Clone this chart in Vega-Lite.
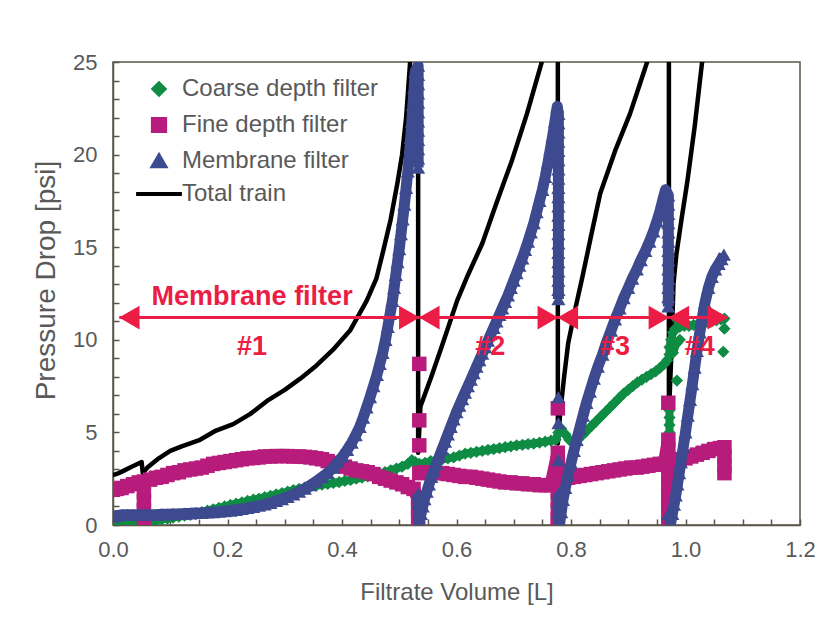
{
  "$schema": "https://vega.github.io/schema/vega-lite/v6.json",
  "autosize": {"type": "none"},
  "padding": {"left": 113, "top": 62, "right": 33, "bottom": 116},
  "width": 687,
  "height": 463,
  "background": "white",
  "config": {
    "font": "Liberation Sans",
    "view": {"stroke": "#5a5548", "strokeWidth": 1.5},
    "axis": {
      "domainColor": "#5a5548", "domainWidth": 1.5,
      "tickColor": "#5a5548", "tickWidth": 1.5, "tickSize": -6,
      "labelColor": "#595959", "labelFont": "Liberation Sans", "labelFontSize": 22,
      "titleColor": "#595959", "titleFontSize": 24, "titleFont": "Liberation Sans", "titleFontWeight": "normal",
      "grid": false, "labelOverlap": false, "labelFlush": false
    }
  },
  "datasets": {
    "coarse": [
      {"g":1,"x":0.000,"y":0.2},{"g":1,"x":0.008,"y":0.15},{"g":1,"x":0.016,"y":0.15},{"g":1,"x":0.025,"y":0.15},{"g":1,"x":0.035,"y":0.15},{"g":1,"x":0.045,"y":0.15},{"g":1,"x":0.055,"y":0.1},{"g":1,"x":0.065,"y":0.2},{"g":1,"x":0.075,"y":0.25},{"g":1,"x":0.085,"y":0.3},{"g":1,"x":0.095,"y":0.35},{"g":1,"x":0.105,"y":0.4},{"g":1,"x":0.115,"y":0.45},{"g":1,"x":0.125,"y":0.5},{"g":1,"x":0.135,"y":0.55},{"g":1,"x":0.145,"y":0.6},{"g":1,"x":0.155,"y":0.7},{"g":1,"x":0.165,"y":0.78},{"g":1,"x":0.175,"y":0.85},{"g":1,"x":0.185,"y":0.92},{"g":1,"x":0.195,"y":1.0},{"g":1,"x":0.205,"y":1.08},{"g":1,"x":0.215,"y":1.15},{"g":1,"x":0.225,"y":1.22},{"g":1,"x":0.235,"y":1.3},{"g":1,"x":0.245,"y":1.37},{"g":1,"x":0.255,"y":1.43},{"g":1,"x":0.265,"y":1.5},{"g":1,"x":0.275,"y":1.57},{"g":1,"x":0.285,"y":1.65},{"g":1,"x":0.295,"y":1.72},{"g":1,"x":0.305,"y":1.8},{"g":1,"x":0.315,"y":1.88},{"g":1,"x":0.325,"y":1.95},{"g":1,"x":0.335,"y":2.02},{"g":1,"x":0.345,"y":2.07},{"g":1,"x":0.355,"y":2.12},{"g":1,"x":0.365,"y":2.18},{"g":1,"x":0.375,"y":2.22},{"g":1,"x":0.385,"y":2.27},{"g":1,"x":0.395,"y":2.32},{"g":1,"x":0.405,"y":2.38},{"g":1,"x":0.415,"y":2.43},{"g":1,"x":0.425,"y":2.5},{"g":1,"x":0.435,"y":2.56},{"g":1,"x":0.445,"y":2.62},{"g":1,"x":0.455,"y":2.7},{"g":1,"x":0.465,"y":2.78},{"g":1,"x":0.475,"y":2.85},{"g":1,"x":0.485,"y":2.95},{"g":1,"x":0.495,"y":3.05},{"g":1,"x":0.505,"y":3.15},{"g":1,"x":0.515,"y":3.3},{"g":1,"x":0.522,"y":3.5},{"g":1,"x":0.528,"y":3.4},{"g":1,"x":0.535,"y":3.3},{"g":1,"x":0.545,"y":3.35},{"g":1,"x":0.555,"y":3.45},{"g":1,"x":0.565,"y":3.5},{"g":1,"x":0.575,"y":3.55},{"g":1,"x":0.585,"y":3.6},{"g":1,"x":0.595,"y":3.65},{"g":1,"x":0.605,"y":3.75},{"g":1,"x":0.615,"y":3.85},{"g":1,"x":0.625,"y":3.9},{"g":1,"x":0.635,"y":3.95},{"g":1,"x":0.645,"y":4.0},{"g":1,"x":0.655,"y":4.05},{"g":1,"x":0.665,"y":4.1},{"g":1,"x":0.675,"y":4.15},{"g":1,"x":0.685,"y":4.2},{"g":1,"x":0.695,"y":4.25},{"g":1,"x":0.705,"y":4.3},{"g":1,"x":0.715,"y":4.33},{"g":1,"x":0.725,"y":4.37},{"g":1,"x":0.735,"y":4.4},{"g":1,"x":0.745,"y":4.45},{"g":1,"x":0.755,"y":4.5},{"g":1,"x":0.765,"y":4.55},{"g":1,"x":0.773,"y":4.6},{"g":1,"x":0.778,"y":5.0},{"g":1,"x":0.783,"y":5.2},{"g":1,"x":0.79,"y":4.9},{"g":1,"x":0.797,"y":4.6},{"g":1,"x":0.805,"y":4.5},{"g":1,"x":0.812,"y":4.6},{"g":1,"x":0.82,"y":4.85},{"g":1,"x":0.828,"y":5.1},{"g":1,"x":0.836,"y":5.35},{"g":1,"x":0.844,"y":5.6},{"g":1,"x":0.852,"y":5.85},{"g":1,"x":0.86,"y":6.1},{"g":1,"x":0.868,"y":6.35},{"g":1,"x":0.876,"y":6.6},{"g":1,"x":0.884,"y":6.85},{"g":1,"x":0.892,"y":7.1},{"g":1,"x":0.9,"y":7.3},{"g":1,"x":0.908,"y":7.5},{"g":1,"x":0.916,"y":7.7},{"g":1,"x":0.924,"y":7.85},{"g":1,"x":0.932,"y":8.0},{"g":1,"x":0.94,"y":8.15},{"g":1,"x":0.948,"y":8.3},{"g":1,"x":0.956,"y":8.5},{"g":1,"x":0.963,"y":8.7},{"g":1,"x":0.968,"y":8.9},
      {"g":2,"x":0.972,"y":4.6},{"g":2,"x":0.972,"y":5.0},{"g":2,"x":0.972,"y":5.4},{"g":2,"x":0.972,"y":5.8},{"g":2,"x":0.972,"y":6.2},
      {"g":3,"x":0.972,"y":9.2},{"g":3,"x":0.972,"y":9.6},{"g":3,"x":0.975,"y":10.0},{"g":3,"x":0.978,"y":10.4},{"g":3,"x":0.982,"y":10.6},{"g":3,"x":0.99,"y":10.7},{"g":3,"x":0.998,"y":10.75},{"g":3,"x":1.006,"y":10.75},{"g":3,"x":1.014,"y":10.8},{"g":3,"x":1.022,"y":10.85},{"g":3,"x":1.03,"y":10.9},{"g":3,"x":1.038,"y":10.95},{"g":3,"x":1.046,"y":11.0},{"g":3,"x":1.054,"y":11.05},{"g":3,"x":1.062,"y":11.1},{"g":3,"x":1.068,"y":11.15},
      {"g":4,"x":0.978,"y":9.3},{"g":4,"x":0.984,"y":9.8},{"g":4,"x":0.99,"y":10.0},
      {"g":5,"x":0.985,"y":11.1},{"g":5,"x":0.995,"y":11.3},
      {"g":6,"x":0.985,"y":7.8},{"g":7,"x":1.068,"y":10.6},{"g":8,"x":1.066,"y":9.35}
    ],
    "fine": [
      {"g":1,"x":0.000,"y":1.9},{"g":1,"x":0.007,"y":1.95},{"g":1,"x":0.015,"y":2.0},{"g":1,"x":0.025,"y":2.1},{"g":1,"x":0.035,"y":2.2},{"g":1,"x":0.045,"y":2.3},{"g":1,"x":0.054,"y":2.35},{"g":1,"x":0.065,"y":2.45},{"g":1,"x":0.075,"y":2.55},{"g":1,"x":0.085,"y":2.6},{"g":1,"x":0.095,"y":2.7},{"g":1,"x":0.105,"y":2.8},{"g":1,"x":0.115,"y":2.85},{"g":1,"x":0.125,"y":2.95},{"g":1,"x":0.135,"y":3.0},{"g":1,"x":0.145,"y":3.05},{"g":1,"x":0.155,"y":3.1},{"g":1,"x":0.165,"y":3.2},{"g":1,"x":0.175,"y":3.3},{"g":1,"x":0.185,"y":3.35},{"g":1,"x":0.195,"y":3.4},{"g":1,"x":0.205,"y":3.45},{"g":1,"x":0.215,"y":3.5},{"g":1,"x":0.225,"y":3.55},{"g":1,"x":0.235,"y":3.6},{"g":1,"x":0.245,"y":3.62},{"g":1,"x":0.255,"y":3.65},{"g":1,"x":0.265,"y":3.7},{"g":1,"x":0.275,"y":3.7},{"g":1,"x":0.285,"y":3.72},{"g":1,"x":0.295,"y":3.72},{"g":1,"x":0.305,"y":3.72},{"g":1,"x":0.315,"y":3.7},{"g":1,"x":0.325,"y":3.7},{"g":1,"x":0.335,"y":3.68},{"g":1,"x":0.345,"y":3.65},{"g":1,"x":0.355,"y":3.6},{"g":1,"x":0.365,"y":3.55},{"g":1,"x":0.375,"y":3.45},{"g":1,"x":0.385,"y":3.35},{"g":1,"x":0.395,"y":3.25},{"g":1,"x":0.405,"y":3.15},{"g":1,"x":0.415,"y":3.05},{"g":1,"x":0.425,"y":2.95},{"g":1,"x":0.435,"y":2.9},{"g":1,"x":0.445,"y":2.85},{"g":1,"x":0.455,"y":2.75},{"g":1,"x":0.465,"y":2.6},{"g":1,"x":0.475,"y":2.5},{"g":1,"x":0.485,"y":2.4},{"g":1,"x":0.495,"y":2.3},{"g":1,"x":0.505,"y":2.2},{"g":1,"x":0.515,"y":2.05},{"g":1,"x":0.525,"y":1.95},{"g":1,"x":0.533,"y":1.4},{"g":1,"x":0.533,"y":0.9},{"g":1,"x":0.533,"y":0.4},
      {"g":2,"x":0.054,"y":1.8},{"g":2,"x":0.054,"y":1.3},{"g":2,"x":0.054,"y":0.8},{"g":2,"x":0.054,"y":0.3},
      {"g":3,"x":0.535,"y":8.7},{"g":4,"x":0.535,"y":5.65},{"g":5,"x":0.535,"y":4.3},
      {"g":6,"x":0.535,"y":2.8},{"g":6,"x":0.545,"y":2.85},{"g":6,"x":0.555,"y":2.85},{"g":6,"x":0.565,"y":2.8},{"g":6,"x":0.575,"y":2.8},{"g":6,"x":0.585,"y":2.75},{"g":6,"x":0.595,"y":2.7},{"g":6,"x":0.605,"y":2.65},{"g":6,"x":0.615,"y":2.6},{"g":6,"x":0.625,"y":2.6},{"g":6,"x":0.635,"y":2.55},{"g":6,"x":0.645,"y":2.5},{"g":6,"x":0.655,"y":2.45},{"g":6,"x":0.665,"y":2.4},{"g":6,"x":0.675,"y":2.35},{"g":6,"x":0.685,"y":2.3},{"g":6,"x":0.695,"y":2.3},{"g":6,"x":0.705,"y":2.25},{"g":6,"x":0.715,"y":2.25},{"g":6,"x":0.725,"y":2.2},{"g":6,"x":0.735,"y":2.2},{"g":6,"x":0.745,"y":2.15},{"g":6,"x":0.755,"y":2.15},{"g":6,"x":0.765,"y":2.15},{"g":6,"x":0.777,"y":3.9},{"g":6,"x":0.777,"y":3.3},{"g":6,"x":0.777,"y":2.3},{"g":6,"x":0.777,"y":1.8},{"g":6,"x":0.777,"y":1.3},{"g":6,"x":0.777,"y":0.8},{"g":6,"x":0.777,"y":0.3},{"g":6,"x":0.777,"y":0.0},
      {"g":7,"x":0.777,"y":6.3},
      {"g":8,"x":0.785,"y":2.5},{"g":8,"x":0.795,"y":2.55},{"g":8,"x":0.805,"y":2.6},{"g":8,"x":0.815,"y":2.65},{"g":8,"x":0.825,"y":2.7},{"g":8,"x":0.835,"y":2.75},{"g":8,"x":0.845,"y":2.8},{"g":8,"x":0.855,"y":2.85},{"g":8,"x":0.865,"y":2.9},{"g":8,"x":0.875,"y":2.95},{"g":8,"x":0.885,"y":3.0},{"g":8,"x":0.895,"y":3.05},{"g":8,"x":0.905,"y":3.1},{"g":8,"x":0.915,"y":3.1},{"g":8,"x":0.925,"y":3.15},{"g":8,"x":0.935,"y":3.2},{"g":8,"x":0.945,"y":3.25},{"g":8,"x":0.955,"y":3.3},{"g":8,"x":0.963,"y":3.3},{"g":8,"x":0.97,"y":4.6},{"g":8,"x":0.97,"y":4.1},{"g":8,"x":0.97,"y":3.6},{"g":8,"x":0.97,"y":3.1},{"g":8,"x":0.97,"y":2.6},{"g":8,"x":0.97,"y":2.1},{"g":8,"x":0.97,"y":1.6},{"g":8,"x":0.97,"y":1.1},{"g":8,"x":0.97,"y":0.6},{"g":8,"x":0.97,"y":0.1},
      {"g":9,"x":0.97,"y":6.6},
      {"g":10,"x":0.98,"y":3.5},{"g":10,"x":0.99,"y":3.55},{"g":10,"x":1.0,"y":3.6},{"g":10,"x":1.01,"y":3.7},{"g":10,"x":1.02,"y":3.8},{"g":10,"x":1.03,"y":3.9},{"g":10,"x":1.04,"y":4.0},{"g":10,"x":1.05,"y":4.1},{"g":10,"x":1.06,"y":4.15},{"g":10,"x":1.068,"y":4.2},{"g":10,"x":1.068,"y":3.7},{"g":10,"x":1.068,"y":3.2},{"g":10,"x":1.068,"y":2.8}
    ],
    "membrane": [
      {"g":1,"x":0.000,"y":0.45},{"g":1,"x":0.005,"y":0.5},{"g":1,"x":0.015,"y":0.55},{"g":1,"x":0.025,"y":0.55},{"g":1,"x":0.035,"y":0.55},{"g":1,"x":0.045,"y":0.55},{"g":1,"x":0.055,"y":0.55},{"g":1,"x":0.065,"y":0.55},{"g":1,"x":0.075,"y":0.55},{"g":1,"x":0.085,"y":0.58},{"g":1,"x":0.095,"y":0.58},{"g":1,"x":0.105,"y":0.6},{"g":1,"x":0.115,"y":0.6},{"g":1,"x":0.125,"y":0.62},{"g":1,"x":0.135,"y":0.63},{"g":1,"x":0.145,"y":0.65},{"g":1,"x":0.155,"y":0.66},{"g":1,"x":0.165,"y":0.68},{"g":1,"x":0.175,"y":0.7},{"g":1,"x":0.185,"y":0.72},{"g":1,"x":0.195,"y":0.75},{"g":1,"x":0.205,"y":0.78},{"g":1,"x":0.215,"y":0.82},{"g":1,"x":0.225,"y":0.87},{"g":1,"x":0.235,"y":0.92},{"g":1,"x":0.245,"y":0.98},{"g":1,"x":0.255,"y":1.05},{"g":1,"x":0.265,"y":1.12},{"g":1,"x":0.275,"y":1.2},{"g":1,"x":0.285,"y":1.3},{"g":1,"x":0.295,"y":1.4},{"g":1,"x":0.305,"y":1.52},{"g":1,"x":0.315,"y":1.65},{"g":1,"x":0.325,"y":1.8},{"g":1,"x":0.335,"y":1.97},{"g":1,"x":0.345,"y":2.15},{"g":1,"x":0.355,"y":2.35},{"g":1,"x":0.365,"y":2.58},{"g":1,"x":0.375,"y":2.82},{"g":1,"x":0.385,"y":3.1},{"g":1,"x":0.393,"y":3.4},{"g":1,"x":0.401,"y":3.7},{"g":1,"x":0.409,"y":4.05},{"g":1,"x":0.417,"y":4.45},{"g":1,"x":0.424,"y":4.85},{"g":1,"x":0.431,"y":5.3},{"g":1,"x":0.437,"y":5.8},{"g":1,"x":0.443,"y":6.35},{"g":1,"x":0.449,"y":6.9},{"g":1,"x":0.455,"y":7.5},{"g":1,"x":0.461,"y":8.1},{"g":1,"x":0.466,"y":8.7},{"g":1,"x":0.471,"y":9.3},{"g":1,"x":0.476,"y":10.0},{"g":1,"x":0.480,"y":10.7},{"g":1,"x":0.484,"y":11.4},{"g":1,"x":0.488,"y":12.1},{"g":1,"x":0.491,"y":12.8},{"g":1,"x":0.494,"y":13.5},{"g":1,"x":0.497,"y":14.2},{"g":1,"x":0.500,"y":14.9},{"g":1,"x":0.503,"y":15.7},{"g":1,"x":0.506,"y":16.5},{"g":1,"x":0.509,"y":17.3},{"g":1,"x":0.512,"y":18.2},{"g":1,"x":0.515,"y":19.1},{"g":1,"x":0.518,"y":20.0},{"g":1,"x":0.520,"y":20.9},{"g":1,"x":0.522,"y":21.8},{"g":1,"x":0.524,"y":22.7},{"g":1,"x":0.526,"y":23.6},{"g":1,"x":0.528,"y":24.5},{"g":1,"x":0.533,"y":24.8},{"g":1,"x":0.533,"y":24.3},{"g":1,"x":0.533,"y":23.8},{"g":1,"x":0.533,"y":23.3},{"g":1,"x":0.533,"y":22.8},{"g":1,"x":0.533,"y":22.3},{"g":1,"x":0.533,"y":21.8},{"g":1,"x":0.533,"y":21.3},{"g":1,"x":0.533,"y":20.8},{"g":1,"x":0.533,"y":20.3},{"g":1,"x":0.533,"y":19.8},{"g":1,"x":0.533,"y":19.3},
      {"g":2,"x":0.533,"y":1.7},{"g":2,"x":0.533,"y":1.2},{"g":2,"x":0.535,"y":0.2},{"g":2,"x":0.538,"y":0.6},{"g":2,"x":0.541,"y":1.0},{"g":2,"x":0.544,"y":1.4},{"g":2,"x":0.548,"y":1.8},{"g":2,"x":0.552,"y":2.2},{"g":2,"x":0.556,"y":2.6},{"g":2,"x":0.56,"y":2.9},{"g":2,"x":0.565,"y":3.3},{"g":2,"x":0.57,"y":3.7},{"g":2,"x":0.575,"y":4.1},{"g":2,"x":0.58,"y":4.5},{"g":2,"x":0.585,"y":4.9},{"g":2,"x":0.59,"y":5.3},{"g":2,"x":0.595,"y":5.7},{"g":2,"x":0.6,"y":6.1},{"g":2,"x":0.605,"y":6.45},{"g":2,"x":0.61,"y":6.8},{"g":2,"x":0.615,"y":7.15},{"g":2,"x":0.62,"y":7.5},{"g":2,"x":0.625,"y":7.85},{"g":2,"x":0.63,"y":8.2},{"g":2,"x":0.635,"y":8.55},{"g":2,"x":0.64,"y":8.9},{"g":2,"x":0.645,"y":9.25},{"g":2,"x":0.65,"y":9.6},{"g":2,"x":0.655,"y":9.95},{"g":2,"x":0.66,"y":10.3},{"g":2,"x":0.665,"y":10.65},{"g":2,"x":0.67,"y":11.0},{"g":2,"x":0.675,"y":11.35},{"g":2,"x":0.68,"y":11.7},{"g":2,"x":0.685,"y":12.05},{"g":2,"x":0.69,"y":12.4},{"g":2,"x":0.695,"y":12.8},{"g":2,"x":0.7,"y":13.2},{"g":2,"x":0.705,"y":13.6},{"g":2,"x":0.71,"y":14.0},{"g":2,"x":0.715,"y":14.4},{"g":2,"x":0.72,"y":14.85},{"g":2,"x":0.725,"y":15.3},{"g":2,"x":0.73,"y":15.8},{"g":2,"x":0.735,"y":16.3},{"g":2,"x":0.74,"y":16.9},{"g":2,"x":0.745,"y":17.5},{"g":2,"x":0.75,"y":18.1},{"g":2,"x":0.755,"y":18.8},{"g":2,"x":0.76,"y":19.6},{"g":2,"x":0.764,"y":20.3},{"g":2,"x":0.768,"y":21.0},{"g":2,"x":0.772,"y":21.8},{"g":2,"x":0.776,"y":22.6},{"g":2,"x":0.778,"y":22.2},{"g":2,"x":0.778,"y":21.7},{"g":2,"x":0.778,"y":21.2},{"g":2,"x":0.778,"y":20.7},{"g":2,"x":0.778,"y":20.2},{"g":2,"x":0.778,"y":19.7},{"g":2,"x":0.778,"y":19.2},{"g":2,"x":0.778,"y":18.7},{"g":2,"x":0.778,"y":18.2},{"g":2,"x":0.778,"y":17.7},{"g":2,"x":0.778,"y":17.2},{"g":2,"x":0.778,"y":16.7},{"g":2,"x":0.778,"y":16.2},{"g":2,"x":0.778,"y":15.7},{"g":2,"x":0.778,"y":15.2},{"g":2,"x":0.778,"y":14.7},{"g":2,"x":0.778,"y":14.2},{"g":2,"x":0.778,"y":13.7},{"g":2,"x":0.778,"y":13.2},{"g":2,"x":0.778,"y":12.7},{"g":2,"x":0.778,"y":12.2},
      {"g":3,"x":0.778,"y":6.9},{"g":4,"x":0.778,"y":5.5},{"g":5,"x":0.778,"y":3.5},
      {"g":6,"x":0.778,"y":1.7},{"g":6,"x":0.778,"y":1.2},{"g":6,"x":0.778,"y":0.7},{"g":6,"x":0.78,"y":0.1},{"g":6,"x":0.783,"y":0.7},{"g":6,"x":0.786,"y":1.35},{"g":6,"x":0.79,"y":2.0},{"g":6,"x":0.795,"y":2.7},{"g":6,"x":0.8,"y":3.35},{"g":6,"x":0.805,"y":4.0},{"g":6,"x":0.81,"y":4.6},{"g":6,"x":0.815,"y":5.2},{"g":6,"x":0.821,"y":5.9},{"g":6,"x":0.827,"y":6.6},{"g":6,"x":0.833,"y":7.2},{"g":6,"x":0.84,"y":7.9},{"g":6,"x":0.847,"y":8.55},{"g":6,"x":0.855,"y":9.2},{"g":6,"x":0.862,"y":9.85},{"g":6,"x":0.87,"y":10.5},{"g":6,"x":0.877,"y":11.1},{"g":6,"x":0.885,"y":11.7},{"g":6,"x":0.892,"y":12.25},{"g":6,"x":0.9,"y":12.8},{"g":6,"x":0.907,"y":13.3},{"g":6,"x":0.915,"y":13.8},{"g":6,"x":0.922,"y":14.3},{"g":6,"x":0.93,"y":14.8},{"g":6,"x":0.937,"y":15.3},{"g":6,"x":0.944,"y":15.85},{"g":6,"x":0.95,"y":16.4},{"g":6,"x":0.955,"y":16.9},{"g":6,"x":0.96,"y":17.5},{"g":6,"x":0.965,"y":18.1},{"g":6,"x":0.97,"y":17.8},{"g":6,"x":0.97,"y":17.3},{"g":6,"x":0.97,"y":16.8},{"g":6,"x":0.97,"y":16.3},{"g":6,"x":0.97,"y":15.8},{"g":6,"x":0.97,"y":15.3},{"g":6,"x":0.97,"y":14.8},{"g":6,"x":0.97,"y":14.3},{"g":6,"x":0.97,"y":13.8},{"g":6,"x":0.97,"y":13.3},{"g":6,"x":0.97,"y":12.8},{"g":6,"x":0.97,"y":12.3},{"g":6,"x":0.97,"y":11.8},
      {"g":7,"x":0.97,"y":0.6},{"g":7,"x":0.974,"y":0.1},{"g":7,"x":0.977,"y":0.6},{"g":7,"x":0.98,"y":1.1},{"g":7,"x":0.983,"y":1.6},{"g":7,"x":0.986,"y":2.2},{"g":7,"x":0.989,"y":2.8},{"g":7,"x":0.992,"y":3.4},{"g":7,"x":0.996,"y":4.2},{"g":7,"x":1.0,"y":5.0},{"g":7,"x":1.004,"y":5.9},{"g":7,"x":1.008,"y":6.75},{"g":7,"x":1.012,"y":7.6},{"g":7,"x":1.016,"y":8.5},{"g":7,"x":1.02,"y":9.4},{"g":7,"x":1.025,"y":10.4},{"g":7,"x":1.03,"y":11.3},{"g":7,"x":1.034,"y":12.0},{"g":7,"x":1.04,"y":12.8},{"g":7,"x":1.046,"y":13.4},{"g":7,"x":1.052,"y":13.8},{"g":7,"x":1.058,"y":14.1},{"g":7,"x":1.063,"y":14.35},{"g":7,"x":1.067,"y":14.6}
    ],
    "total": [
      {"o":1,"x":0.0,"y":2.7},{"o":2,"x":0.01,"y":2.8},{"o":3,"x":0.02,"y":2.95},{"o":4,"x":0.03,"y":3.1},{"o":5,"x":0.04,"y":3.25},{"o":6,"x":0.05,"y":3.4},{"o":7,"x":0.052,"y":2.8},{"o":8,"x":0.06,"y":3.1},{"o":9,"x":0.08,"y":3.6},{"o":10,"x":0.1,"y":4.0},{"o":11,"x":0.12,"y":4.25},{"o":12,"x":0.152,"y":4.6},{"o":13,"x":0.18,"y":5.1},{"o":14,"x":0.21,"y":5.45},{"o":15,"x":0.24,"y":6.0},{"o":16,"x":0.269,"y":6.7},{"o":17,"x":0.3,"y":7.3},{"o":18,"x":0.327,"y":7.9},{"o":19,"x":0.355,"y":8.6},{"o":20,"x":0.384,"y":9.45},{"o":21,"x":0.414,"y":10.5},{"o":22,"x":0.443,"y":12.1},{"o":23,"x":0.46,"y":13.3},{"o":24,"x":0.472,"y":14.8},{"o":25,"x":0.485,"y":16.5},{"o":26,"x":0.497,"y":18.5},{"o":27,"x":0.505,"y":20.0},{"o":28,"x":0.512,"y":22.0},{"o":29,"x":0.519,"y":25.0},{"o":30,"x":0.522,"y":27},{"o":31,"x":0.533,"y":27},{"o":32,"x":0.533,"y":3.9},{"o":33,"x":0.537,"y":6.4},{"o":34,"x":0.556,"y":8.0},{"o":35,"x":0.576,"y":9.8},{"o":36,"x":0.601,"y":12.1},{"o":37,"x":0.62,"y":13.5},{"o":38,"x":0.645,"y":15.2},{"o":39,"x":0.67,"y":17.4},{"o":40,"x":0.697,"y":19.7},{"o":41,"x":0.723,"y":22.2},{"o":42,"x":0.736,"y":23.6},{"o":43,"x":0.749,"y":25.0},{"o":44,"x":0.753,"y":27},{"o":45,"x":0.777,"y":27},{"o":46,"x":0.777,"y":4.4},{"o":47,"x":0.781,"y":6.0},{"o":48,"x":0.788,"y":8.0},{"o":49,"x":0.795,"y":9.8},{"o":50,"x":0.807,"y":11.6},{"o":51,"x":0.82,"y":13.4},{"o":52,"x":0.835,"y":15.6},{"o":53,"x":0.851,"y":17.9},{"o":54,"x":0.877,"y":20.2},{"o":55,"x":0.903,"y":22.2},{"o":56,"x":0.918,"y":23.6},{"o":57,"x":0.933,"y":25.0},{"o":58,"x":0.937,"y":27},{"o":59,"x":0.971,"y":27},{"o":60,"x":0.971,"y":6.0},{"o":61,"x":0.975,"y":9.0},{"o":62,"x":0.979,"y":13.0},{"o":63,"x":0.984,"y":14.6},{"o":64,"x":0.993,"y":16.5},{"o":65,"x":1.003,"y":18.5},{"o":66,"x":1.016,"y":21.5},{"o":67,"x":1.029,"y":25.0},{"o":68,"x":1.032,"y":27}
    ],
    "arrows": [
      {"x1":0.011,"x2":0.535,"y":11.2},
      {"x1":0.535,"x2":0.777,"y":11.2},
      {"x1":0.777,"x2":0.971,"y":11.2},
      {"x1":0.971,"x2":1.074,"y":11.2}
    ],
    "notes": [
      {"x":0.243,"y":12.3,"t":"Membrane filter"},
      {"x":0.243,"y":9.6,"t":"#1"},
      {"x":0.659,"y":9.6,"t":"#2"},
      {"x":0.877,"y":9.6,"t":"#3"},
      {"x":1.025,"y":9.6,"t":"#4"}
    ]
  },
  "layer": [
    {
      "data": {"name": "total"},
      "mark": {"type": "line", "strokeWidth": 4.5, "clip": true, "strokeJoin": "round"},
      "encoding": {
        "x": {"field": "x", "type": "quantitative", "scale": {"domain": [0, 1.2], "nice": false},
          "axis": {"title": "Filtrate Volume [L]", "tickCount": 100, "values": [0,0.05,0.1,0.15,0.2,0.25,0.3,0.35,0.4,0.45,0.5,0.55,0.6,0.65,0.7,0.75,0.8,0.85,0.9,0.95,1.0,1.05,1.1,1.15,1.2],
            "labelExpr": "round(datum.value*100) % 20 == 0 ? format(datum.value, '.1f') : ''",
            "labelPadding": 20, "titlePadding": 20, "labelOverlap": false, "labelFlush": false}},
        "y": {"field": "y", "type": "quantitative", "scale": {"domain": [0, 25], "nice": false},
          "axis": {"title": "Pressure Drop [psi]", "titleFontSize": 28, "titleY": 218, "tickCount": 100, "values": [0,1,2,3,4,5,6,7,8,9,10,11,12,13,14,15,16,17,18,19,20,21,22,23,24,25],
            "labelExpr": "datum.value % 5 == 0 ? format(datum.value, 'd') : ''",
            "labelPadding": 22, "titlePadding": 12, "labelOverlap": false, "labelFlush": false}},
        "order": {"field": "o", "type": "quantitative"},
        "color": {"datum": "Total train",
          "scale": {"domain": ["Coarse depth filter", "Fine depth filter", "Membrane filter", "Total train"], "range": ["#0f8c43", "#b71c7c", "#3e4a8f", "#000000"]},
          "legend": {
            "title": null, "orient": "none", "legendX": 34, "legendY": 15, "padding": 0,
            "labelFontSize": 24, "labelColor": "#595959", "labelFont": "Liberation Sans", "labelLimit": 400,
            "symbolSize": 200, "rowPadding": 7, "labelOffset": 11,
            "encode": {"symbols": {"update": {
              "size": {"signal": "datum.value === 'Total train' ? 2100 : (datum.value === 'Coarse depth filter' ? 120 : 150)"},
              "fill": {"scale": "color", "field": "value"},
              "fillOpacity": {"value": 1},
              "stroke": {"signal": "datum.value === 'Total train' ? 'black' : 'transparent'"},
              "strokeWidth": {"value": 4},
              "opacity": {"value": 1}
            }}}
          }}
      }
    },
    {
      "data": {"name": "coarse"},
      "mark": {"type": "line", "strokeWidth": 8, "clip": true, "strokeJoin": "round", "strokeCap": "round"},
      "encoding": {
        "x": {"field": "x", "type": "quantitative"},
        "y": {"field": "y", "type": "quantitative"},
        "detail": {"field": "g", "type": "nominal"},
        "order": {"value": null},
        "color": {"datum": "Coarse depth filter"}
      }
    },
    {
      "data": {"name": "coarse"},
      "mark": {"type": "point", "filled": true, "opacity": 1, "size": 150, "clip": true},
      "encoding": {
        "x": {"field": "x", "type": "quantitative"},
        "y": {"field": "y", "type": "quantitative"},
        "color": {"datum": "Coarse depth filter"},
        "shape": {"datum": "Coarse depth filter",
          "scale": {"domain": ["Coarse depth filter", "Fine depth filter", "Membrane filter", "Total train"], "range": ["diamond", "square", "triangle-up", "stroke"]}}
      }
    },
    {
      "data": {"name": "fine"},
      "mark": {"type": "line", "strokeWidth": 13, "clip": true, "strokeJoin": "round"},
      "encoding": {
        "x": {"field": "x", "type": "quantitative"},
        "y": {"field": "y", "type": "quantitative"},
        "detail": {"field": "g", "type": "nominal"},
        "order": {"value": null},
        "color": {"datum": "Fine depth filter"}
      }
    },
    {
      "data": {"name": "fine"},
      "mark": {"type": "point", "filled": true, "opacity": 1, "size": 210, "clip": true},
      "encoding": {
        "x": {"field": "x", "type": "quantitative"},
        "y": {"field": "y", "type": "quantitative"},
        "color": {"datum": "Fine depth filter"},
        "shape": {"datum": "Fine depth filter"}
      }
    },
    {
      "data": {"name": "membrane"},
      "mark": {"type": "line", "strokeWidth": 11, "clip": true, "strokeJoin": "round"},
      "encoding": {
        "x": {"field": "x", "type": "quantitative"},
        "y": {"field": "y", "type": "quantitative"},
        "detail": {"field": "g", "type": "nominal"},
        "order": {"value": null},
        "color": {"datum": "Membrane filter"}
      }
    },
    {
      "data": {"name": "membrane"},
      "mark": {"type": "point", "filled": true, "opacity": 1, "size": 200, "clip": true},
      "encoding": {
        "x": {"field": "x", "type": "quantitative"},
        "y": {"field": "y", "type": "quantitative"},
        "color": {"datum": "Membrane filter"},
        "shape": {"datum": "Membrane filter"}
      }
    },
    {
      "data": {"name": "arrows"},
      "mark": {"type": "rule", "color": "#ec1d45", "strokeWidth": 3},
      "encoding": {
        "x": {"field": "x1", "type": "quantitative"},
        "x2": {"field": "x2"},
        "y": {"field": "y", "type": "quantitative"}
      }
    },
    {
      "data": {"name": "arrows"},
      "mark": {"type": "point", "shape": "triangle-left", "filled": true, "color": "#ec1d45", "opacity": 1, "size": 560, "xOffset": 10},
      "encoding": {
        "x": {"field": "x1", "type": "quantitative"},
        "y": {"field": "y", "type": "quantitative"}
      }
    },
    {
      "data": {"name": "arrows"},
      "mark": {"type": "point", "shape": "triangle-right", "filled": true, "color": "#ec1d45", "opacity": 1, "size": 560, "xOffset": -10},
      "encoding": {
        "x": {"field": "x2", "type": "quantitative"},
        "y": {"field": "y", "type": "quantitative"}
      }
    },
    {
      "data": {"name": "notes"},
      "mark": {"type": "text", "color": "#ec1d45", "fontSize": 27, "fontWeight": "bold", "font": "Liberation Sans", "baseline": "middle", "align": "center"},
      "encoding": {
        "x": {"field": "x", "type": "quantitative"},
        "y": {"field": "y", "type": "quantitative"},
        "text": {"field": "t"}
      }
    }
  ]
}
